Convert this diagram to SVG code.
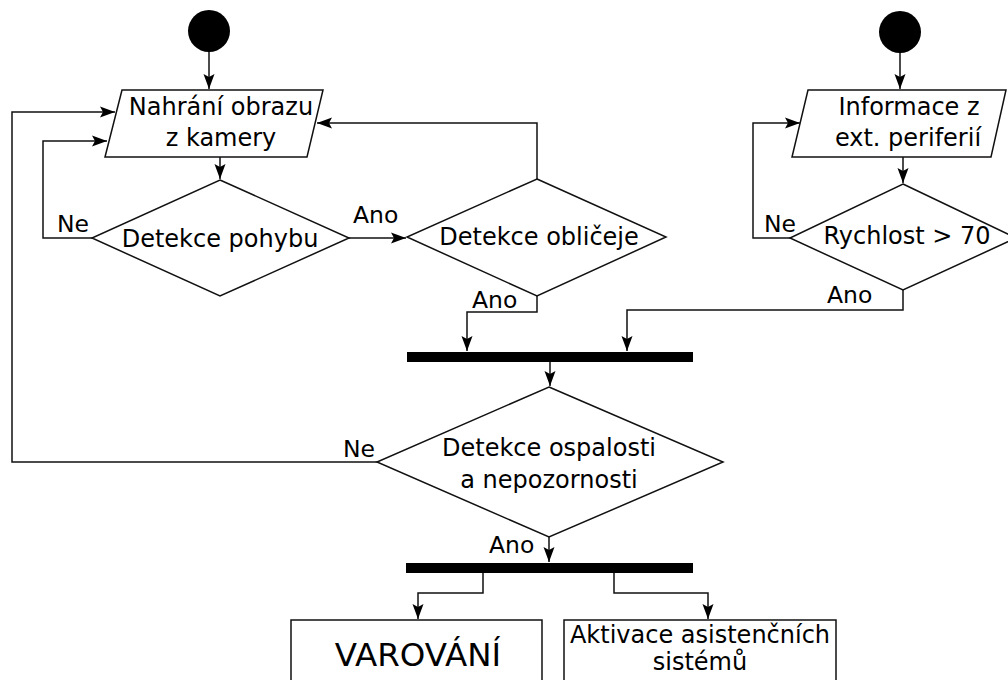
<svg xmlns="http://www.w3.org/2000/svg" width="1008" height="680" viewBox="0 0 1008 680">
  <style>
    .shape { fill: #fff; stroke: #111; stroke-width: 1.5; }
    .bar { fill: #000; }
    .start { fill: #000; }
    .edge { fill: none; stroke: #111; stroke-width: 1.5; marker-end: url(#arrow); }
    text { font-family: "DejaVu Sans", Verdana, sans-serif; fill: #000; }
    .t { font-size: 24px; text-anchor: middle; }
    .lbl { font-size: 23.5px; }
    .big { font-size: 32.5px; text-anchor: middle; }
  </style>
  <defs>
    <marker id="arrow" markerUnits="userSpaceOnUse" markerWidth="18" markerHeight="14" viewBox="-17 -7 18 14" refX="0" refY="0" orient="auto">
      <path d="M0,0 L-15,-5.5 L-12,0 L-15,5.5 Z" fill="#000"/>
    </marker>
  </defs>

  <!-- connectors -->
  <g id="connectors">
    <path class="edge" d="M209,52 V89"/>
    <path class="edge" d="M220,157 V179"/>
    <path class="edge" d="M92,238 H43 V141 H107"/>
    <path class="edge" d="M349,238 H406"/>
    <path class="edge" d="M537,179 V123 H317"/>
    <path class="edge" d="M537,296 V312 H467 V351"/>
    <path class="edge" d="M377,462 H12 V112 H115"/>
    <path class="edge" d="M900,53 V89"/>
    <path class="edge" d="M903,157 V183"/>
    <path class="edge" d="M790,238 H753 V123 H800"/>
    <path class="edge" d="M903,290 V310 H627 V351"/>
    <path class="edge" d="M550,362 V386"/>
    <path class="edge" d="M549,537 V562"/>
    <path class="edge" d="M483,573 V593 H418 V619"/>
    <path class="edge" d="M614,573 V593 H708 V619"/>
    <text class="lbl" x="57" y="232">Ne</text>
    <text class="lbl" x="353" y="223">Ano</text>
    <text class="lbl" x="472" y="308">Ano</text>
    <text class="lbl" x="764" y="232">Ne</text>
    <text class="lbl" x="827" y="303">Ano</text>
    <text class="lbl" x="343" y="457">Ne</text>
    <text class="lbl" x="489" y="553">Ano</text>
  </g>

  <g id="start-camera">
    <circle class="start" cx="209" cy="31" r="21"/>
  </g>
  <g id="start-periphery">
    <circle class="start" cx="900" cy="32" r="21"/>
  </g>

  <g id="capture-image">
    <polygon class="shape" points="122,90 323,90 307,157 105,157"/>
    <text class="t" x="221" y="115">Nahrání obrazu</text>
    <text class="t" x="221" y="146">z kamery</text>
  </g>

  <g id="motion-detection">
    <polygon class="shape" points="220,180 349,238 220,296 92,238"/>
    <text class="t" x="220" y="247">Detekce pohybu</text>
  </g>

  <g id="face-detection">
    <polygon class="shape" points="537,179 666,237 537,296 407,237"/>
    <text class="t" x="539" y="245">Detekce obličeje</text>
  </g>

  <g id="external-info">
    <polygon class="shape" points="808,90 1006,90 991,157 792,157"/>
    <text class="t" x="909" y="115">Informace z</text>
    <text class="t" x="908" y="146">ext. periferií</text>
  </g>

  <g id="speed-check">
    <polygon class="shape" points="903,184 1016,238 903,290 790,238"/>
    <text class="t" x="907" y="244">Rychlost &gt; 70</text>
  </g>

  <g id="join-bar">
    <rect class="bar" x="407" y="352" width="286" height="10"/>
  </g>

  <g id="drowsiness-detection">
    <polygon class="shape" points="549,387 723,462 549,537 377,462"/>
    <text class="t" x="549" y="456">Detekce ospalosti</text>
    <text class="t" x="549" y="488">a nepozornosti</text>
  </g>

  <g id="fork-bar">
    <rect class="bar" x="406" y="563" width="287" height="10"/>
  </g>

  <g id="warning">
    <rect class="shape" x="291" y="620" width="251" height="80"/>
    <text class="big" x="418" y="666">VAROVÁNÍ</text>
  </g>

  <g id="assist-activation">
    <rect class="shape" x="564" y="620" width="272" height="80"/>
    <text class="t" x="700" y="643">Aktivace asistenčních</text>
    <text class="t" x="700" y="670">sistémů</text>
  </g>
</svg>
